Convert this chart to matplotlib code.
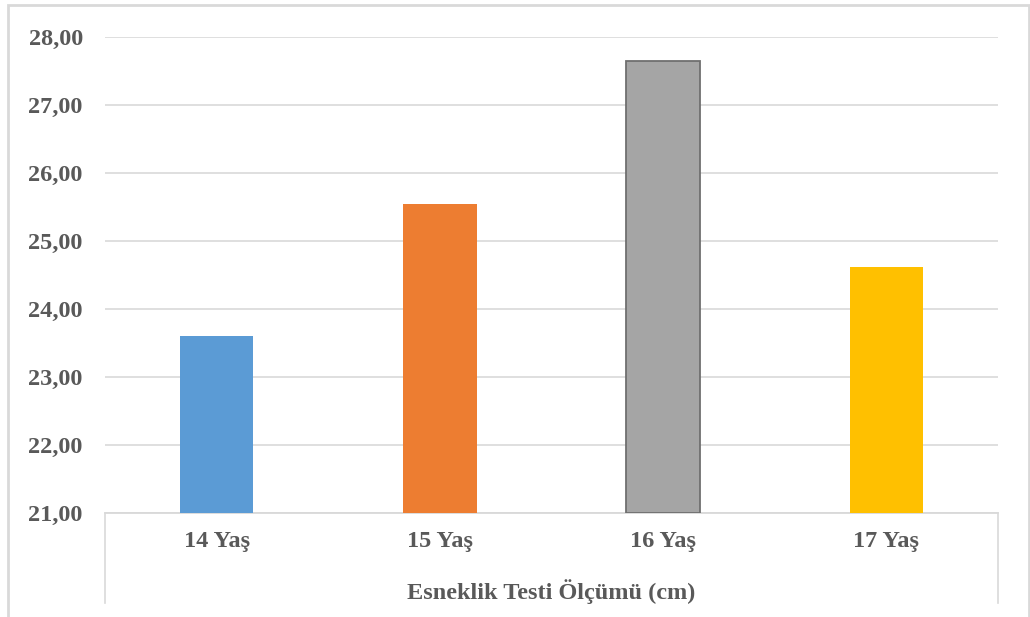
import numpy as np
import matplotlib.pyplot as plt
from matplotlib.patches import Rectangle

categories = ['14 Yaş', '15 Yaş', '16 Yaş', '17 Yaş']
values = [23.60, 25.55, 27.64, 24.62]
colors = ['#5B9BD5', '#ED7D31', '#A5A5A5', '#FFC000']
edges = ['#5B9BD5', '#ED7D31', '#6F6F6F', '#FFC000']
y_ticks = [21, 22, 23, 24, 25, 26, 27, 28]
group_label = 'Esneklik Testi Ölçümü (cm)'

plt.rcParams['font.family'] = ['Liberation Serif', 'DejaVu Serif']
text_color = '#595959'
grid_color = '#D9D9D9'
fsize = 17.5

W, H = 1030, 617
fig = plt.figure(figsize=(W / 100, H / 100), dpi=100)
ax = fig.add_axes([105 / W, 1 - 513 / H, (998 - 105) / W, (513 - 37) / H])

x = np.arange(len(categories))
ax.bar(x, [v - y_ticks[0] for v in values], bottom=y_ticks[0], width=0.33,
       color=colors, edgecolor=edges, linewidth=[0, 0, 1.3, 0], zorder=3)

ax.set_xlim(-0.5, len(categories) - 0.5)
ax.set_ylim(y_ticks[0], y_ticks[-1])
ax.set_yticks(y_ticks)
ax.set_yticklabels([f'{t:.2f}'.replace('.', ',') for t in y_ticks])
ax.set_xticks(x)
ax.set_xticklabels(categories)
ax.tick_params(axis='y', length=0, pad=16, labelsize=fsize, labelcolor=text_color)
ax.tick_params(axis='x', length=0, pad=13, labelsize=fsize, labelcolor=text_color)
for lab in ax.get_xticklabels() + ax.get_yticklabels():
    lab.set_fontweight('bold')

ax.grid(axis='y', color=grid_color, linewidth=1.2, zorder=0)
for side in ['top', 'left', 'right']:
    ax.spines[side].set_visible(False)
ax.spines['bottom'].set_color(grid_color)
ax.spines['bottom'].set_linewidth(1.3)

# outer category box lines below the axis
drop = (603 - 513) / (513 - 37)
for xe in [0, 1]:
    ax.plot([xe, xe], [0, -drop], transform=ax.transAxes, color=grid_color,
            linewidth=1.2, clip_on=False)

ax.text(0.5, -(592 - 513) / (513 - 37), group_label, transform=ax.transAxes,
        ha='center', va='center', fontsize=fsize, fontweight='bold', color=text_color)

fig.add_artist(Rectangle((8 / W, -0.02), (1029 - 8) / W, 1 - 5 / H + 0.02,
                         transform=fig.transFigure, fill=False,
                         edgecolor=grid_color, linewidth=2))

fig.savefig('out.png', dpi=100)
